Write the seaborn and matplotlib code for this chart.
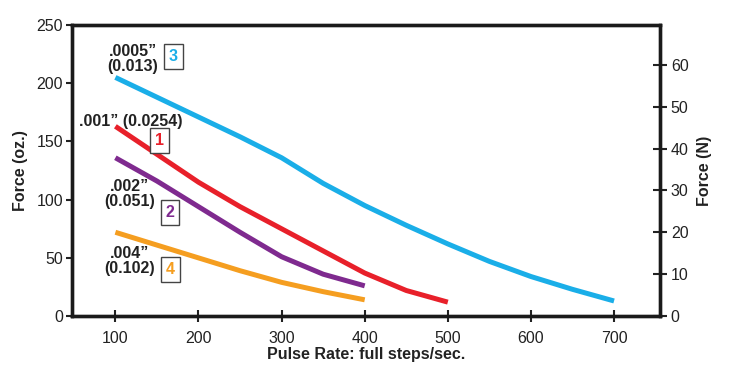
import numpy as np
import pandas as pd
import matplotlib
matplotlib.use("Agg")
import matplotlib.pyplot as plt
import seaborn as sns

sns.set_style("white")
plt.rcParams['font.family'] = ['Liberation Sans', 'DejaVu Sans']

# pulse rate (full steps/sec) and force (oz.) for each step-size curve
rate_3 = [100, 150, 200, 250, 300, 350, 400, 450, 500, 550, 600, 650, 700]
force_3 = [205, 188, 171, 154, 136, 114, 95, 78, 62, 47, 34, 23, 13]
rate_1 = [100, 150, 200, 250, 300, 350, 400, 450, 500]
force_1 = [163, 139, 115, 94, 75, 56, 37, 22, 12]
rate_2 = [100, 150, 200, 250, 300, 350, 400]
force_2 = [136, 116, 94, 72, 51, 36, 26]
rate_4 = [100, 150, 200, 250, 300, 350, 400]
force_4 = [72, 61, 50, 39, 29, 21, 14]

colors = {"3": "#1aaee8", "1": "#e8202a", "2": "#7f2a8f", "4": "#f59e20"}
curves = [("3", rate_3, force_3), ("1", rate_1, force_1),
          ("2", rate_2, force_2), ("4", rate_4, force_4)]

# labels: text, text pos, box number, box pos
labels = [(".0005\u201d\n(0.013)", 121, 221, "3", 170, 223),
          (".001\u201d (0.0254)", 118, 167, "1", 153, 151),
          (".002\u201d\n(0.051)", 117, 105, "2", 166, 89),
          (".004\u201d\n(0.102)", 117, 47, "4", 166, 40)]

OZ_PER_N = 3.597

fig = plt.figure(figsize=(7.29, 3.68), dpi=100)
ax = fig.add_axes([0.099, 0.141, 0.806, 0.791])

for key, xs, ys in curves:
    df = pd.DataFrame({"rate": xs, "force": ys})
    sns.lineplot(data=df, x="rate", y="force", ax=ax, color=colors[key],
                 linewidth=3.6, solid_capstyle="butt")

for txt, tx, ty, num, bx, by in labels:
    ax.text(tx, ty, txt, ha="center", va="center", fontsize=11.5,
            fontweight="bold", color="#222222", linespacing=1.0)
    ax.text(bx, by, num, ha="center", va="center", fontsize=11.5,
            fontweight="bold", color=colors[num],
            bbox=dict(boxstyle="square,pad=0.3", fc="white", ec="#444444", lw=1))

ax.set_xlim(48, 755)
ax.set_ylim(0, 250)
ax.set_xticks([100, 200, 300, 400, 500, 600, 700])
ax.set_yticks([0, 50, 100, 150, 200, 250])
ax.set_xlabel("Pulse Rate: full steps/sec.", fontsize=11.5, fontweight="bold",
              color="#222222", labelpad=1)
ax.set_ylabel("Force (oz.)", fontsize=11.5, fontweight="bold", color="#222222",
              labelpad=6)
ax.tick_params(axis="x", direction="inout", length=9, width=1.5,
               labelsize=11.5, colors="#222222", pad=6, bottom=True)
ax.tick_params(axis="y", direction="out", length=4.5, width=1.5,
               labelsize=11.5, colors="#222222", left=True, pad=2)
for s in ax.spines.values():
    s.set_linewidth(2.4)
    s.set_color("#1a1a1a")

ax2 = ax.twinx()
ax2.set_ylim(0, 250 / OZ_PER_N)
ax2.set_yticks([0, 10, 20, 30, 40, 50, 60])
ax2.set_ylabel("Force (N)", fontsize=11.5, fontweight="bold", color="#222222",
               labelpad=6)
ax2.tick_params(axis="y", direction="inout", length=10, width=1.5,
                labelsize=11.5, colors="#222222", right=True, pad=3)
for s in ax2.spines.values():
    s.set_linewidth(2.4)
    s.set_color("#1a1a1a")

fig.savefig("out.png", dpi=100, facecolor="white")
